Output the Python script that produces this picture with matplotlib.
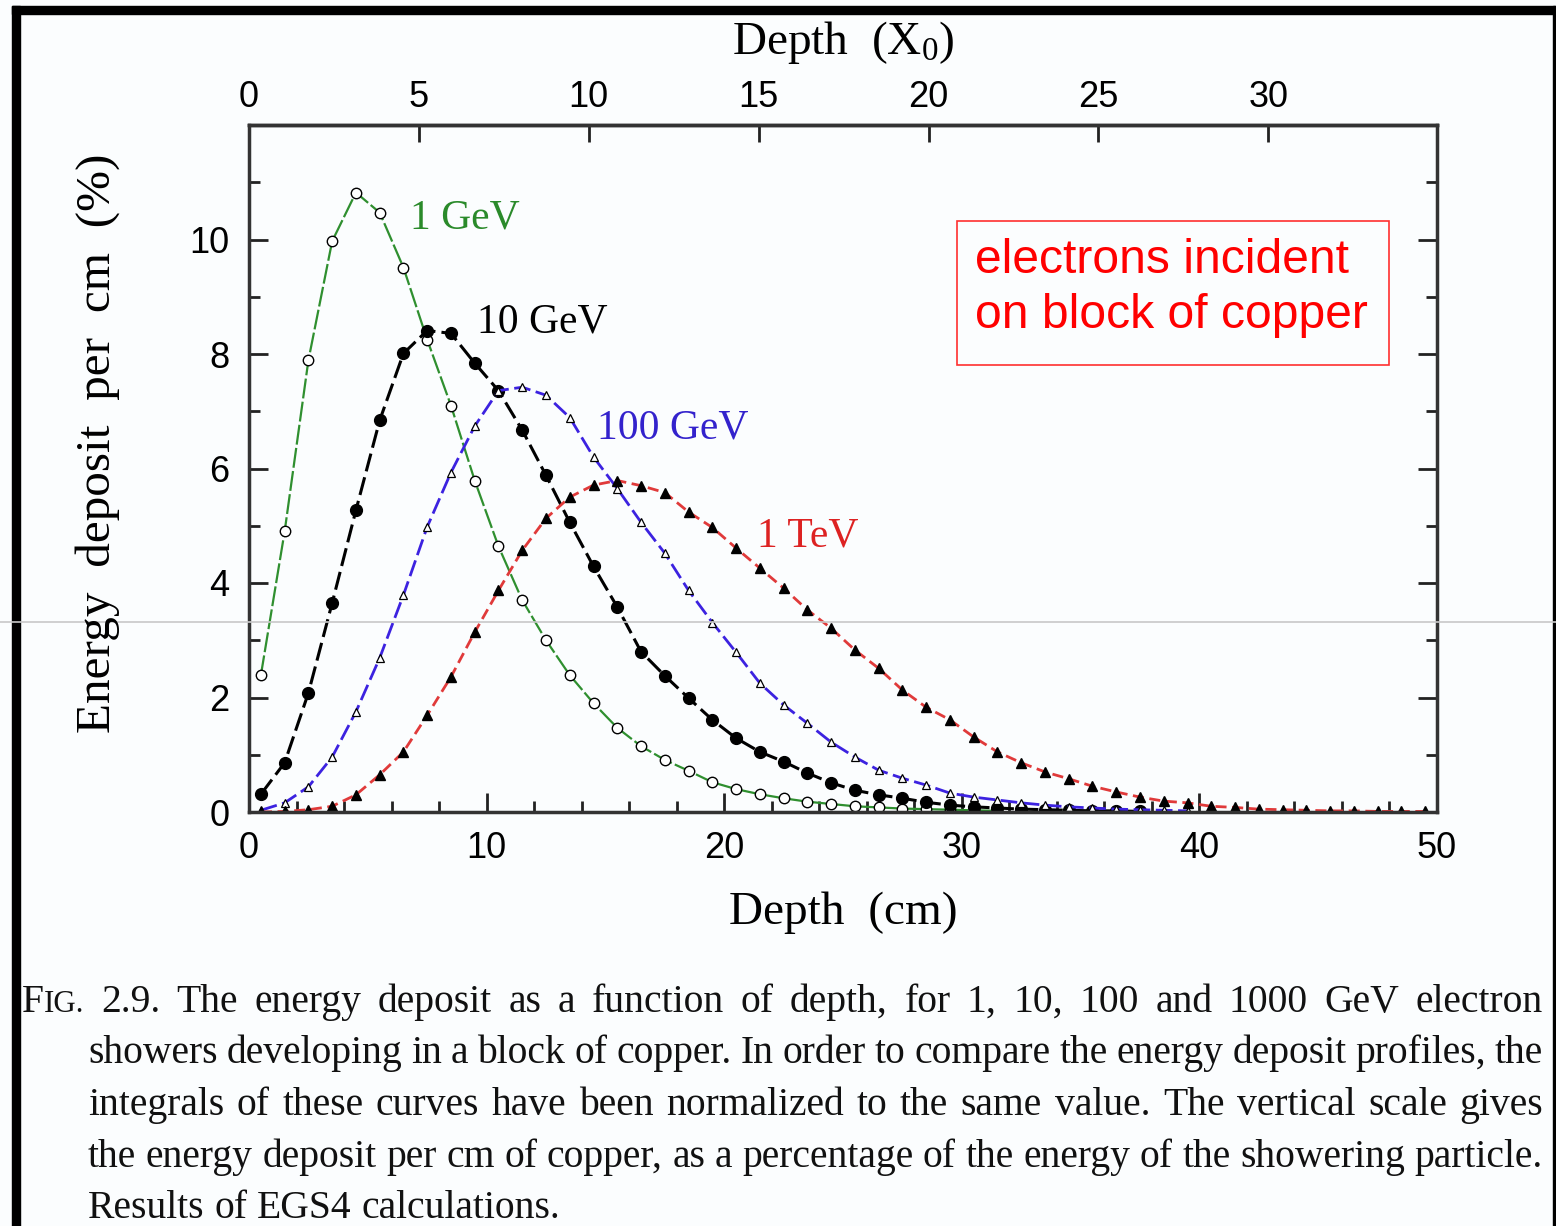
import matplotlib
matplotlib.use("Agg")
import matplotlib.pyplot as plt
from matplotlib.patches import Rectangle
from matplotlib.lines import Line2D

W, H = 1556, 1226

# data: depth (cm) at bin centres, energy deposit (% per cm)
depth_1gev = [0.5 + i for i in range(32)]
dep_1gev = [2.39, 4.90, 7.89, 9.97, 10.82, 10.47, 9.51, 8.25, 7.10, 5.79,
            4.64, 3.70, 3.00, 2.39, 1.90, 1.47, 1.15, 0.91, 0.72, 0.52,
            0.40, 0.31, 0.24, 0.18, 0.14, 0.10, 0.08, 0.06, 0.05, 0.04,
            0.03, 0.02]

depth_10gev = [0.5 + i for i in range(38)]
dep_10gev = [0.31, 0.86, 2.08, 3.65, 5.27, 6.84, 8.01, 8.41, 8.36, 7.84,
             7.36, 6.67, 5.88, 5.06, 4.29, 3.58, 2.80, 2.38, 1.99, 1.61,
             1.29, 1.05, 0.88, 0.68, 0.51, 0.38, 0.30, 0.24, 0.17, 0.12,
             0.09, 0.07, 0.05, 0.04, 0.03, 0.02, 0.02, 0.01]

depth_100gev = [0.5 + i for i in range(40)]
dep_100gev = [0.03, 0.16, 0.44, 0.96, 1.75, 2.69, 3.79, 4.98, 5.93, 6.74,
              7.36, 7.42, 7.28, 6.89, 6.20, 5.65, 5.06, 4.52, 3.87, 3.31,
              2.79, 2.25, 1.87, 1.55, 1.22, 0.96, 0.73, 0.59, 0.47, 0.33,
              0.26, 0.21, 0.16, 0.12, 0.09, 0.07, 0.05, 0.04, 0.03, 0.02]

depth_1tev = [0.5 + i for i in range(50)]
dep_1tev = [0.00, 0.01, 0.04, 0.10, 0.30, 0.65, 1.05, 1.69, 2.36, 3.14,
            3.87, 4.57, 5.13, 5.50, 5.71, 5.79, 5.70, 5.58, 5.24, 4.97,
            4.61, 4.26, 3.91, 3.53, 3.21, 2.83, 2.51, 2.13, 1.83, 1.61,
            1.31, 1.05, 0.86, 0.70, 0.58, 0.45, 0.35, 0.26, 0.19, 0.16,
            0.10, 0.08, 0.05, 0.04, 0.03, 0.02, 0.02, 0.01, 0.01, 0.01]

X0_CM = 1.43  # radiation length of copper in cm

caption_lines = [
    "FIG. 2.9. The energy deposit as a function of depth, for 1, 10, 100 and 1000 GeV electron",
    "showers developing in a block of copper. In order to compare the energy deposit profiles, the",
    "integrals of these curves have been normalized to the same value. The vertical scale gives",
    "the energy deposit per cm of copper, as a percentage of the energy of the showering particle.",
    "Results of EGS4 calculations.",
]

plt.rcParams["mathtext.fontset"] = "custom"
plt.rcParams["mathtext.rm"] = "Liberation Serif"
SERIF = "Liberation Serif"
SANS = "Liberation Sans"

def fx(x):
    return x / W

def fy(y):
    return 1 - y / H

fig = plt.figure(figsize=(W / 100, H / 100), dpi=100, facecolor="#fbfdfe")
ax = fig.add_axes([fx(249), fy(812), (1437 - 249) / W, (812 - 125) / H])
ax.set_facecolor("#fbfdfe")

ax.plot(depth_1gev, dep_1gev, color="#2f8f2f", lw=1.6, dashes=(9, 1.5),
        marker="o", ms=7.5, mfc="white", mec="black", mew=1.0)
ax.plot(depth_10gev, dep_10gev, color="black", lw=2.2, dashes=(6, 2),
        marker="o", ms=8.5, mfc="black", mec="black")
ax.plot(depth_100gev, dep_100gev, color="#3c22e0", lw=2.0, dashes=(6, 2),
        marker="^", ms=6, mfc="white", mec="black", mew=0.9)
ax.plot(depth_1tev, dep_1tev, color="#e03a3a", lw=2.0, dashes=(4, 2),
        marker="^", ms=6.5, mfc="black", mec="black")

ax.text(6.78, 10.19, "1 GeV", color="#2a8a2a", fontsize=30, family=SERIF)
ax.text(9.60, 8.38, "10 GeV", color="black", fontsize=30, family=SERIF)
ax.text(14.65, 6.53, "100 GeV", color="#3322cc", fontsize=30, family=SERIF)
ax.text(21.38, 4.64, "1 TeV", color="#dd2222", fontsize=30, family=SERIF)

ax.set_xlim(0, 50)
ax.set_ylim(0, 12)
ax.set_xticks(range(0, 51, 10))
ax.set_xticks(range(0, 51, 2), minor=True)
ax.set_yticks(range(0, 11, 2))
ax.set_yticks(range(1, 12, 2), minor=True)
ax.tick_params(which="both", direction="in", top=False, right=True,
               width=2, color="#222222")
ax.tick_params(which="major", length=14, labelsize=26, pad=14)
ax.tick_params(which="minor", length=8)
for lab in ax.get_xticklabels() + ax.get_yticklabels():
    lab.set_family(SANS)
for sp in ax.spines.values():
    sp.set_linewidth(2.5)
    sp.set_color("#333333")

ax.set_xlabel("Depth  (cm)", family=SERIF, fontsize=34, labelpad=18)

sec = ax.secondary_xaxis("top", functions=(lambda x: x / X0_CM, lambda x: x * X0_CM))
sec.set_xticks(range(0, 31, 5))
sec.tick_params(direction="in", length=12, width=2, labelsize=26, pad=7,
                color="#222222")
for lab in sec.get_xticklabels():
    lab.set_family(SANS)
sec.spines["top"].set_linewidth(2.5)
sec.spines["top"].set_color("#333333")
sec.set_xlabel("Depth  (X$\\mathregular{_0}$)", family=SERIF, fontsize=34, labelpad=19)

fig.text(fx(98), fy(443), "Energy  deposit  per  cm  (%)", rotation=90,
         ha="center", va="center", family=SERIF, fontsize=35.5)

# annotation box
fig.add_artist(Rectangle((fx(957), fy(365)), (1389 - 957) / W, (365 - 221) / H,
                         transform=fig.transFigure, facecolor="none",
                         edgecolor="#ff3030", lw=1.2))
fig.text(fx(975), fy(273), "electrons incident", color="#ff0000",
         fontsize=34.6, family=SANS, va="baseline")
fig.text(fx(975), fy(328), "on block of copper", color="#ff0000",
         fontsize=34.6, family=SANS, va="baseline")

# caption, justified word by word
renderer = fig.canvas.get_renderer()
cap_size = 28.5
baselines = [1012, 1063, 1115, 1167, 1218]
for i, line in enumerate(caption_lines):
    x0 = 22 if i == 0 else 88
    x1 = 1543
    words = line.split(" ")
    pieces = []
    for w in words:
        if w == "FIG.":
            frags = [("F", cap_size), ("IG.", cap_size * 0.78)]
        else:
            frags = [(w, cap_size)]
        ts = []
        for s, size in frags:
            t = fig.text(0, fy(baselines[i]), s, fontsize=size, family=SERIF,
                         va="baseline", ha="left", color="#111111")
            ts.append((t, t.get_window_extent(renderer).width))
        pieces.append(ts)
    widths = [sum(wd for _, wd in ts) for ts in pieces]
    if i < len(caption_lines) - 1:
        gap = (x1 - x0 - sum(widths)) / (len(pieces) - 1)
    else:
        gap = cap_size * 100 / 72 * 0.25
    x = x0
    for ts, wd in zip(pieces, widths):
        xx = x
        for t, w1 in ts:
            t.set_x(fx(xx))
            xx += w1
        x += wd + gap

# page frame from the screenshot
fig.add_artist(Rectangle((fx(12), fy(14)), (W - 12) / W, 8 / H,
                         transform=fig.transFigure, color="black"))
fig.add_artist(Rectangle((fx(12), 0), 8 / W, fy(6),
                         transform=fig.transFigure, color="black"))
fig.add_artist(Rectangle((fx(1553), 0), 2 / W, fy(6),
                         transform=fig.transFigure, color="black"))
fig.add_artist(Line2D([0, 1], [fy(622), fy(622)], transform=fig.transFigure,
                      color="#c8c8c8", lw=1.2))

fig.savefig("out.png", dpi=100, facecolor=fig.get_facecolor())
